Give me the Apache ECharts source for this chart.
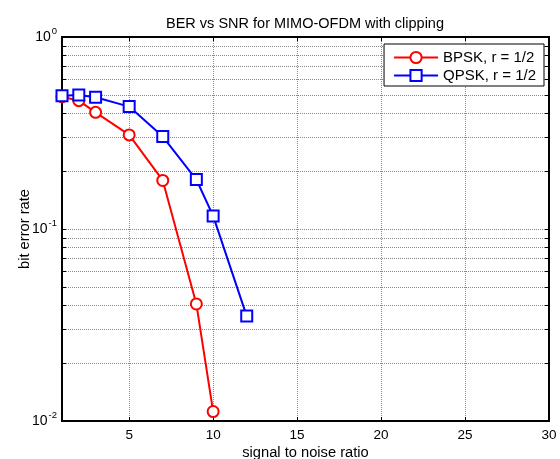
<!DOCTYPE html>
<html><head><meta charset="utf-8">
<script src="https://cdn.jsdelivr.net/npm/echarts@6/dist/echarts.min.js"></script>
<style>html,body{margin:0;padding:0;background:#fff}#c{width:560px;height:459px}</style>
</head><body><div id="c"></div>
<script>
var snrBpsk = [1, 2, 3, 5, 7, 9, 10];
var berBpsk = [0.489, 0.466, 0.405, 0.309, 0.179, 0.0407, 0.0112];
var snrQpsk = [1, 2, 3, 5, 7, 9, 10, 12];
var berQpsk = [0.495, 0.499, 0.485, 0.434, 0.303, 0.181, 0.117, 0.0352];
var xTicks = [5, 10, 15, 20, 25, 30];
var yLabelTicks = [0.01, 0.1, 1];
var yMinorTicks = [0.01,0.02,0.03,0.04,0.05,0.06,0.07,0.08,0.09,0.1,0.2,0.3,0.4,0.5,0.6,0.7,0.8,0.9,1];

var F = 'Liberation Sans, Arial, sans-serif';
function pairs(xs, ys){ return xs.map(function(x,i){return [x, ys[i]];}); }
function supFmt(v){ return '{b|10}{s|' + Math.round(Math.log10(v)) + '}'; }

var chart = echarts.init(document.getElementById('c'), null, {renderer:'canvas'});
var gridLine = {show:true, lineStyle:{color:'#888', type:[1,1], width:1}};
chart.setOption({
  animation:false,
  backgroundColor:'#fff',
  title:{text:'BER vs SNR for MIMO-OFDM with clipping', left:300, top:11, textAlign:'center',
    textStyle:{fontFamily:F, fontSize:14.5, fontWeight:'normal', color:'#000'}},
  grid:{left:62, top:37, right:11, bottom:38, show:true, borderColor:'#000', borderWidth:2,
    backgroundColor:'transparent', containLabel:false, outerBoundsMode:'none'},
  legend:{right:16, top:44, orient:'vertical', backgroundColor:'#fff', borderColor:'#000', borderWidth:1,
    padding:[6,8,3,9], itemWidth:44, itemHeight:14, itemGap:3,
    textStyle:{fontFamily:F, fontSize:15, color:'#000'},
    data:['BPSK, r = 1/2','QPSK, r = 1/2']},
  xAxis:[{type:'value', min:1, max:30, position:'bottom',
    name:'signal to noise ratio', nameLocation:'middle', nameGap:24.5, nameMoveOverlap:false,
    nameTextStyle:{fontFamily:F, fontSize:14.7, color:'#000'},
    axisLine:{show:true, onZero:false, lineStyle:{color:'#000', width:2}},
    axisTick:{show:true, inside:true, length:4, customValues:xTicks, lineStyle:{color:'#000'}},
    axisLabel:{customValues:xTicks, fontFamily:F, fontSize:13.5, color:'#000', margin:7},
    splitLine:gridLine},
   {type:'value', min:1, max:30, position:'top',
    axisLine:{show:true, onZero:false, lineStyle:{color:'#000', width:2}},
    axisTick:{show:true, inside:true, length:4, customValues:xTicks, lineStyle:{color:'#000'}},
    axisLabel:{show:false}, splitLine:{show:false}}],
  yAxis:[{type:'log', logBase:10, min:0.01, max:1, position:'left',
    name:'bit error rate', nameLocation:'middle', nameGap:30, nameMoveOverlap:false,
    nameTextStyle:{fontFamily:F, fontSize:14.7, color:'#000'},
    axisLine:{show:true, lineStyle:{color:'#000', width:2}},
    axisTick:{show:true, inside:true, length:4, customValues:yMinorTicks, lineStyle:{color:'#000'}},
    axisLabel:{customValues:yLabelTicks, formatter:supFmt, margin:5,
      rich:{b:{fontFamily:F, fontSize:14, color:'#000'}, s:{fontFamily:F, fontSize:9.5, color:'#000', padding:[0,0,11,1]}}},
    splitLine:gridLine},
   {type:'log', logBase:10, min:0.01, max:1, position:'right',
    axisLine:{show:true, lineStyle:{color:'#000', width:2}},
    axisTick:{show:true, inside:true, length:4, customValues:yMinorTicks, lineStyle:{color:'#000'}},
    axisLabel:{show:false}, splitLine:{show:false}}],
  series:[
    {name:'BPSK, r = 1/2', type:'line', data:pairs(snrBpsk, berBpsk), symbol:'circle', symbolSize:11,
      lineStyle:{color:'#ff0000', width:2}, itemStyle:{color:'#fff', borderColor:'#ff0000', borderWidth:2}, color:'#ff0000'},
    {name:'QPSK, r = 1/2', type:'line', data:pairs(snrQpsk, berQpsk), symbol:'rect', symbolSize:11,
      lineStyle:{color:'#0000ff', width:2}, itemStyle:{color:'#fff', borderColor:'#0000ff', borderWidth:2}, color:'#0000ff'}
  ]
});
</script></body></html>
